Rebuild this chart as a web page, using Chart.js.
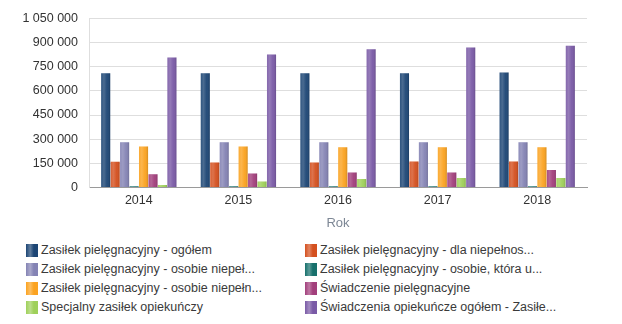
<!DOCTYPE html>
<html>
<head>
<meta charset="utf-8">
<script src="https://cdn.jsdelivr.net/npm/chart.js@4.4.1/dist/chart.umd.min.js"></script>
<style>
    body { margin: 0; background: #fff; font-family: "Liberation Sans", Arial, sans-serif; }
    #wrap { position: relative; width: 622px; height: 324px; }
    #chart { position: absolute; left: 0; top: 0; }
    #legend { position: absolute; left: 26px; top: 243px; display: grid; grid-template-columns: 279px 300px; row-gap: 5px; }
    .item { display: flex; align-items: center; height: 14px; font-size: 12.5px; color: #3a3a3a; white-space: nowrap; }
    .box { width: 12px; height: 13px; margin-right: 3px; flex: none; }
</style>
</head>
<body>
<div id="wrap">
    <canvas id="chart" width="622" height="239"></canvas>
    <div id="legend"></div>
</div>
<script>
    var years = ['2014', '2015', '2016', '2017', '2018'];

    var seriesNames = [
        'Zasiłek pielęgnacyjny - ogółem',
        'Zasiłek pielęgnacyjny - dla niepełnos...',
        'Zasiłek pielęgnacyjny - osobie niepeł...',
        'Zasiłek pielęgnacyjny - osobie, która u...',
        'Zasiłek pielęgnacyjny -  osobie niepełn...',
        'Świadczenie pielęgnacyjne',
        'Specjalny zasiłek opiekuńczy',
        'Świadczenia opiekuńcze ogółem - Zasiłe...'
    ];

    var seriesColors = ['#1d4675', '#d4501f', '#8483b4', '#17706c', '#fba321', '#a23f7c', '#9fd05a', '#7a5aa6'];

    var ogolem       = [710000, 710000, 710000, 710000, 715000];
    var dlaNiepeln   = [160000, 155000, 155000, 161000, 161000];
    var osobieNiepel = [280000, 280000, 280000, 280000, 280000];
    var osobieKtora  = [7000, 7000, 7000, 7000, 7000];
    var osobieNiepeln= [255000, 255000, 249000, 249000, 249000];
    var swiadczenie  = [81000, 87000, 93000, 93000, 108000];
    var specjalny    = [15000, 37000, 52000, 58000, 58000];
    var opiekuncze   = [808000, 826000, 859000, 870000, 880000];

    var seriesValues = [ogolem, dlaNiepeln, osobieNiepel, osobieKtora, osobieNiepeln, swiadczenie, specjalny, opiekuncze];

    function formatNumber(v) {
        return String(v).replace(/\B(?=(\d{3})+(?!\d))/g, ' ');
    }

    // lekki połysk na słupkach
    var shinePlugin = {
        id: 'shine',
        afterDatasetsDraw: function (chart) {
            var ctx = chart.ctx;
            chart.data.datasets.forEach(function (ds, i) {
                chart.getDatasetMeta(i).data.forEach(function (bar) {
                    var left = bar.x - bar.width / 2;
                    var g = ctx.createLinearGradient(left, 0, left + bar.width, 0);
                    g.addColorStop(0, 'rgba(255,255,255,0.08)');
                    g.addColorStop(0.3, 'rgba(255,255,255,0.2)');
                    g.addColorStop(0.65, 'rgba(255,255,255,0.04)');
                    g.addColorStop(1, 'rgba(0,0,0,0.15)');
                    ctx.save();
                    ctx.fillStyle = g;
                    ctx.fillRect(left, bar.y, bar.width, bar.base - bar.y);
                    ctx.restore();
                });
            });
        }
    };

    var chart = new Chart(document.getElementById('chart'), {
        type: 'bar',
        data: {
            labels: years,
            datasets: seriesNames.map(function (name, i) {
                return {
                    label: name,
                    data: seriesValues[i],
                    backgroundColor: seriesColors[i],
                    borderWidth: 0,
                    categoryPercentage: 0.76,
                    barPercentage: 0.96
                };
            })
        },
        options: {
            responsive: false,
            animation: false,
            layout: { padding: { top: 7, right: 35, left: 0, bottom: 4 } },
            plugins: { legend: { display: false }, tooltip: { enabled: false } },
            scales: {
                x: {
                    grid: { display: false, drawTicks: false },
                    border: { color: '#9a9a9a' },
                    ticks: { color: '#333', font: { family: 'Liberation Sans', size: 12.5 }, padding: 6 },
                    title: { display: true, text: 'Rok', color: '#7d8795', font: { family: 'Liberation Sans', size: 13 }, padding: { top: 1 } }
                },
                y: {
                    min: 0,
                    max: 1050000,
                    afterFit: function (scale) { scale.width = 89; },
                    grid: { color: '#dedede', drawTicks: false },
                    border: { color: '#dedede' },
                    ticks: {
                        stepSize: 150000,
                        color: '#333',
                        padding: 11,
                        font: { family: 'Liberation Sans', size: 12.5 },
                        callback: function (v) { return formatNumber(v); }
                    }
                }
            }
        },
        plugins: [shinePlugin]
    });

    // legenda w dwóch kolumnach
    var legend = document.getElementById('legend');
    seriesNames.forEach(function (name, i) {
        var item = document.createElement('div');
        item.className = 'item';
        var box = document.createElement('span');
        box.className = 'box';
        box.style.background = 'linear-gradient(to right, ' + seriesColors[i] + ' 0%, rgba(255,255,255,0.3) 35%, ' + seriesColors[i] + ' 65%)';
        box.style.backgroundColor = seriesColors[i];
        var text = document.createElement('span');
        text.textContent = name;
        item.appendChild(box);
        item.appendChild(text);
        legend.appendChild(item);
    });
</script>
</body>
</html>
